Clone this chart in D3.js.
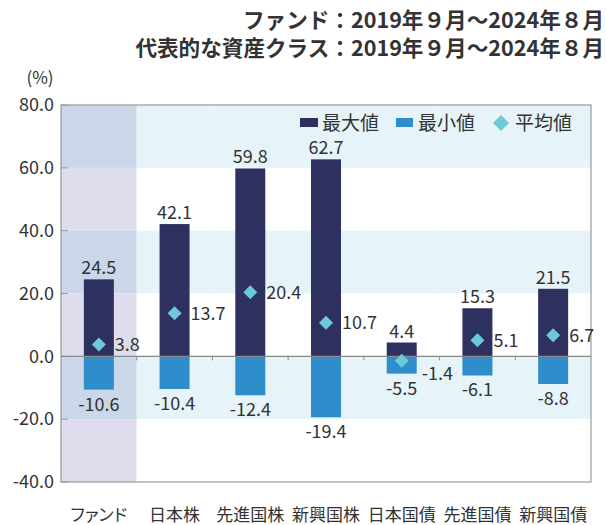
<!DOCTYPE html>
<html>
<head>
<meta charset="utf-8">
<script src="https://cdn.jsdelivr.net/npm/d3@7"></script>
<style>
  body { margin: 0; background: #fff; }
  svg text { font-family: "Noto Sans CJK JP", "Noto Sans", sans-serif; fill: #333; font-feature-settings: "palt"; }
  svg text.titulo { font-feature-settings: normal; }
</style>
</head>
<body>
<div id="chart"></div>
<script>
// categories and values
var categorias = ["ファンド", "日本株", "先進国株", "新興国株", "日本国債", "先進国債", "新興国債"];
var maximos = [24.5, 42.1, 59.8, 62.7, 4.4, 15.3, 21.5];
var minimos = [-10.6, -10.4, -12.4, -19.4, -5.5, -6.1, -8.8];
var medias = [3.8, 13.7, 20.4, 10.7, -1.4, 5.1, 6.7];
var yTicks = [80, 60, 40, 20, 0, -20, -40];
var titulos = ["ファンド：2019年９月～2024年８月", "代表的な資産クラス：2019年９月～2024年８月"];
var legenda = ["最大値", "最小値", "平均値"];

var W = 606, H = 525;
var margin = {top: 105, right: 15, bottom: 43, left: 61},
    width = W - margin.left - margin.right,
    height = H - margin.top - margin.bottom;

var corMax = "#2e3060", corMin = "#2f8dcb", corMedia = "#6ccad8";

var svg = d3.select("#chart").append("svg")
    .attr("width", W)
    .attr("height", H);

// titles
svg.selectAll(".titulo")
    .data(titulos)
  .enter().append("text")
    .attr("class", "titulo")
    .attr("x", 604)
    .attr("y", function(d, i) { return 28 + i * 28; })
    .attr("text-anchor", "end")
    .style("font-size", "21.6px")
    .style("font-weight", "bold")
    .text(function(d) { return d; });

svg.append("text")
    .attr("x", 40).attr("y", 84)
    .attr("text-anchor", "middle")
    .style("font-size", "17px")
    .text("(%)");

var g = svg.append("g")
    .attr("transform", "translate(" + margin.left + "," + margin.top + ")");

var x = d3.scaleBand().domain(categorias).range([0, width]);
var y = d3.scaleLinear().domain([-40, 80]).range([height, 0]);

// background bands
var faixas = d3.pairs(yTicks);
categorias.forEach(function(c, ci) {
  faixas.forEach(function(f, fi) {
    var cor;
    if (ci == 0) cor = fi % 2 == 0 ? "#c9d7e9" : "#dfdded";
    else cor = fi % 2 == 0 ? "#e6f4f9" : "#ffffff";
    g.append("rect")
      .attr("x", x(c))
      .attr("y", y(f[0]))
      .attr("width", x.bandwidth())
      .attr("height", y(f[1]) - y(f[0]))
      .attr("fill", cor);
  });
});

// frame
g.append("rect")
    .attr("width", width).attr("height", height)
    .attr("fill", "none").attr("stroke", "#999").attr("stroke-width", 1.2);

// y axis ticks (inside)
g.selectAll(".ytick")
    .data(yTicks)
  .enter().append("line")
    .attr("x1", 0).attr("x2", 7)
    .attr("y1", function(d) { return y(d); })
    .attr("y2", function(d) { return y(d); })
    .attr("stroke", "#999");

g.selectAll(".ylabel")
    .data(yTicks)
  .enter().append("text")
    .attr("x", -7)
    .attr("y", function(d) { return y(d); })
    .attr("dy", "0.35em")
    .attr("text-anchor", "end")
    .style("font-size", "18px")
    .text(function(d) { return d.toFixed(1); });

var bw = 30;
var cx = function(i) { return x(categorias[i]) + x.bandwidth() / 2; };

// bars
g.selectAll(".barMax")
    .data(maximos)
  .enter().append("rect")
    .attr("x", function(d, i) { return cx(i) - bw / 2; })
    .attr("y", function(d) { return y(d); })
    .attr("width", bw)
    .attr("height", function(d) { return y(0) - y(d); })
    .attr("fill", corMax);

g.selectAll(".barMin")
    .data(minimos)
  .enter().append("rect")
    .attr("x", function(d, i) { return cx(i) - bw / 2; })
    .attr("y", y(0))
    .attr("width", bw)
    .attr("height", function(d) { return y(d) - y(0); })
    .attr("fill", corMin);

// zero line + small ticks
g.append("line")
    .attr("x1", 0).attr("x2", width)
    .attr("y1", y(0)).attr("y2", y(0))
    .attr("stroke", "#888").attr("stroke-width", 1.2);

g.selectAll(".xtick")
    .data(categorias.slice(1))
  .enter().append("line")
    .attr("x1", function(d) { return x(d); })
    .attr("x2", function(d) { return x(d); })
    .attr("y1", y(0)).attr("y2", y(0) + 4)
    .attr("stroke", "#888");

// diamonds
var losango = function(s) { return "M0," + (-s) + "L" + s + ",0L0," + s + "L" + (-s) + ",0Z"; };
g.selectAll(".media")
    .data(medias)
  .enter().append("path")
    .attr("transform", function(d, i) { return "translate(" + cx(i) + "," + y(d) + ")"; })
    .attr("d", losango(7))
    .attr("fill", corMedia);

// labels
g.selectAll(".lblMax")
    .data(maximos)
  .enter().append("text")
    .attr("x", function(d, i) { return cx(i); })
    .attr("y", function(d) { return y(d) - 5; })
    .attr("text-anchor", "middle")
    .style("font-size", "18px")
    .text(function(d) { return d.toFixed(1); });

g.selectAll(".lblMin")
    .data(minimos)
  .enter().append("text")
    .attr("x", function(d, i) { return cx(i); })
    .attr("y", function(d) { return y(d) + 21; })
    .attr("text-anchor", "middle")
    .style("font-size", "18px")
    .text(function(d) { return d.toFixed(1); });

g.selectAll(".lblMedia")
    .data(medias)
  .enter().append("text")
    .attr("x", function(d, i) { return cx(i) + (d < 0 ? 20 : 16); })
    .attr("y", function(d) { return y(d) + (d < 0 ? 13 : 0); })
    .attr("dy", "0.35em")
    .style("font-size", "18px")
    .text(function(d) { return d.toFixed(1); });

// category labels
svg.selectAll(".cat")
    .data(categorias)
  .enter().append("text")
    .attr("x", function(d) { return margin.left + x(d) + x.bandwidth() / 2; })
    .attr("y", 521)
    .attr("text-anchor", "middle")
    .style("font-size", "17px")
    .text(function(d) { return d; });

// legend
var leg = svg.append("g");
var lx = [300, 396, 493];
leg.append("rect").attr("x", lx[0]).attr("y", 118).attr("width", 18).attr("height", 9).attr("fill", corMax);
leg.append("rect").attr("x", lx[1]).attr("y", 118).attr("width", 17).attr("height", 9).attr("fill", corMin);
leg.append("path").attr("transform", "translate(" + (lx[2] + 8) + ",123)").attr("d", losango(8)).attr("fill", corMedia);
leg.selectAll(".legtxt")
    .data(legenda)
  .enter().append("text")
    .attr("x", function(d, i) { return lx[i] + 22; })
    .attr("y", 123)
    .attr("dy", "0.35em")
    .style("font-size", "19px")
    .text(function(d) { return d; });
</script>
</body>
</html>
